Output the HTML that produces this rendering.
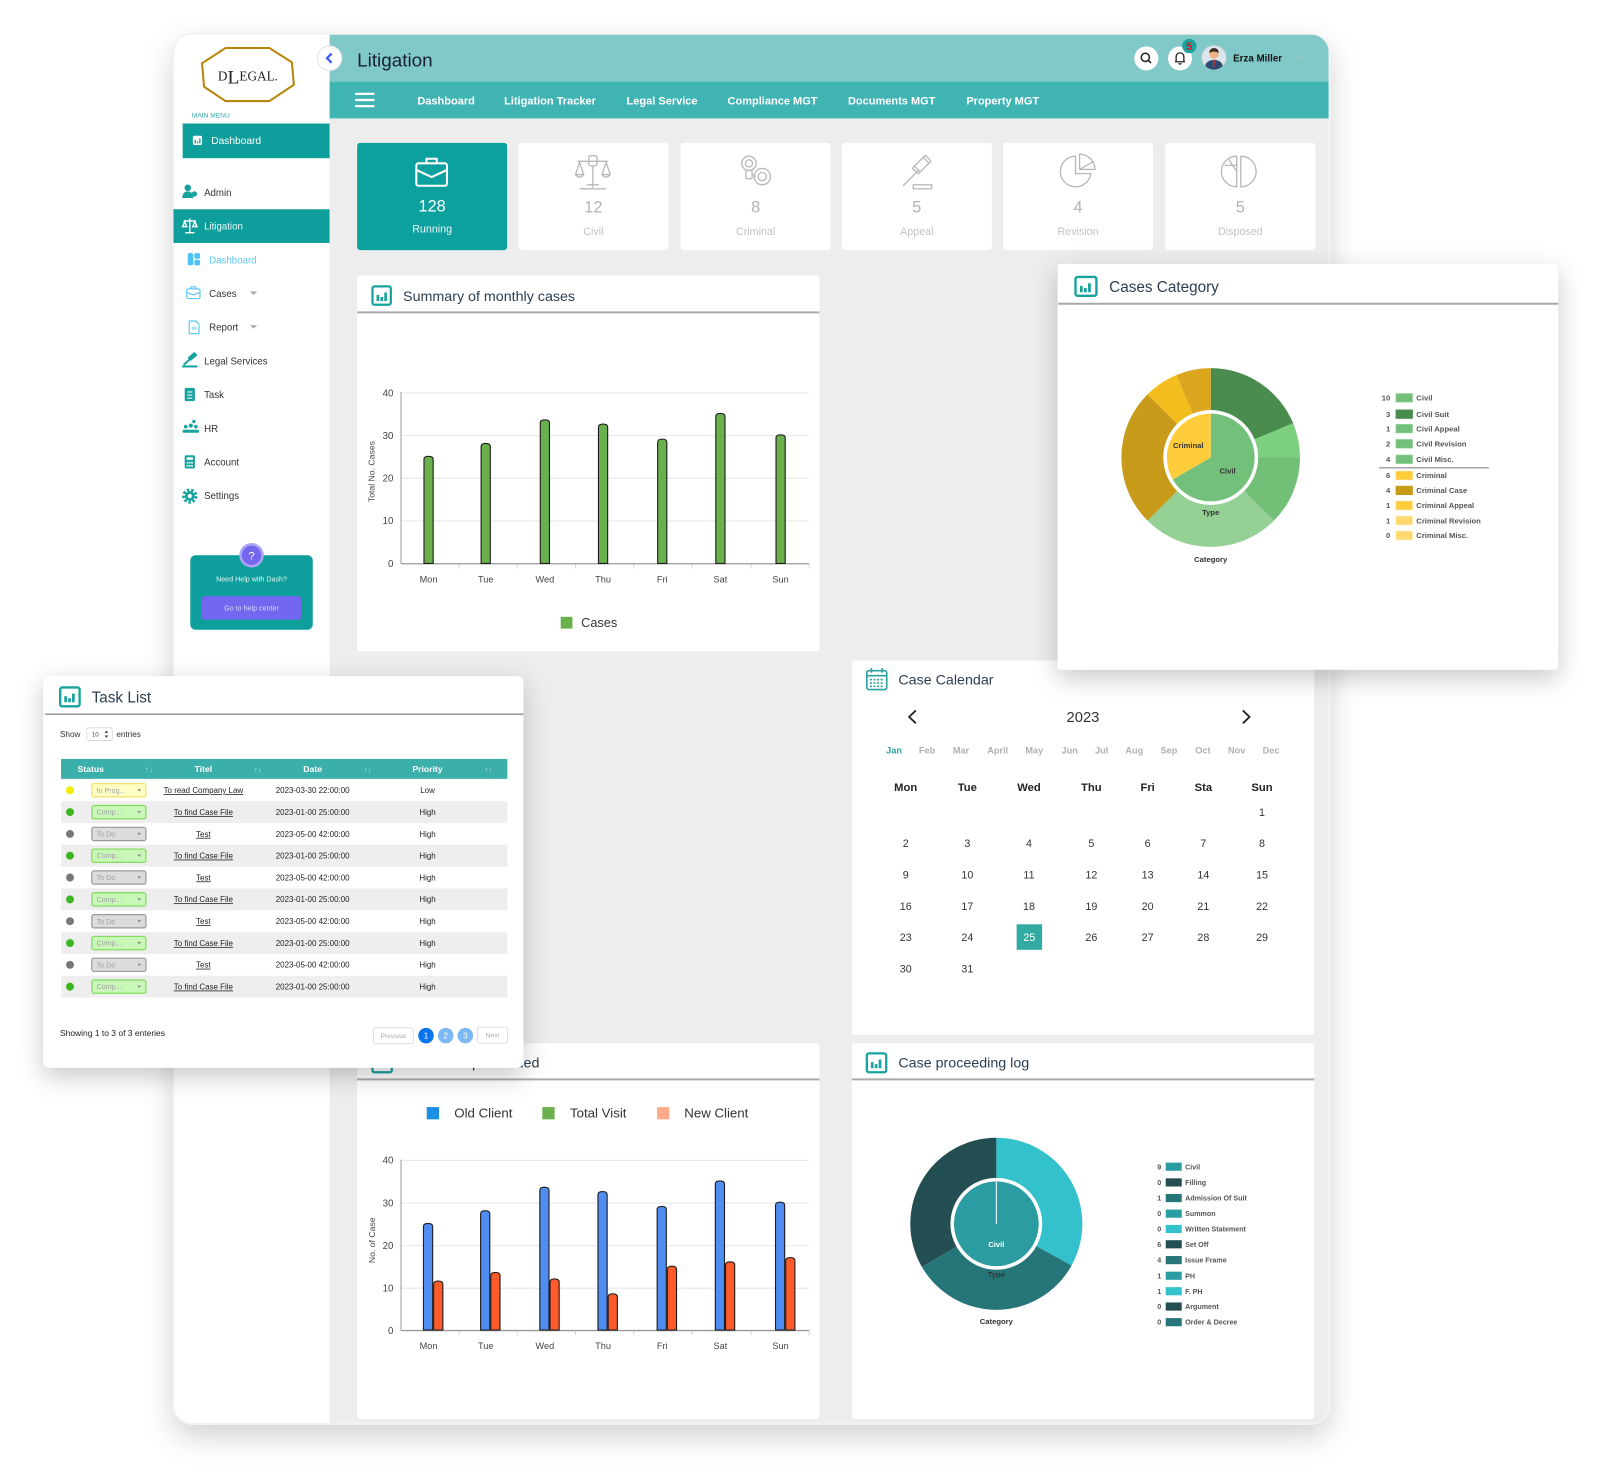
<!DOCTYPE html>
<html><head><meta charset="utf-8"><title>Litigation Dashboard</title>
<style>html,body{margin:0;padding:0;background:#fff;width:1600px;height:1476px;overflow:hidden}svg{display:block}</style></head>
<body>
<svg width="1600" height="1476" viewBox="0 0 1568 1446" preserveAspectRatio="none" font-family="'Liberation Sans', Arial, sans-serif">
<defs>
<filter id="sh" x="-10%" y="-10%" width="120%" height="125%"><feDropShadow dx="0" dy="12" stdDeviation="14" flood-color="#000" flood-opacity="0.18"/></filter>
<filter id="sh2" x="-20%" y="-20%" width="140%" height="145%"><feDropShadow dx="0" dy="8" stdDeviation="12" flood-color="#000" flood-opacity="0.22"/></filter>
<clipPath id="fc"><rect x="170" y="33" width="1133" height="1362" rx="18"/></clipPath>
</defs>
<rect width="1568" height="1446" fill="#fff"/>
<rect x="170" y="33" width="1133" height="1362" rx="18" fill="#ededed" filter="url(#sh)"/>
<g clip-path="url(#fc)">
 <rect x="170" y="33" width="153" height="1362" fill="#fff"/>
 <rect x="323" y="33" width="980" height="47" fill="#80c9c8"/>
 <rect x="323" y="80" width="980" height="36" fill="#3fb4b3"/>
</g>
<rect x="170" y="33" width="1133" height="1362" rx="18" fill="none" stroke="#f3f3f3" stroke-width="2"/>

<!-- Logo -->
<polygon points="221,47 264,47 286,61 288,83 264,99 221,99 200,85 198,62" fill="none" stroke="#b8860b" stroke-width="2"/>
<text x="243" y="79" text-anchor="middle" font-family="'Liberation Serif', serif" font-size="13" fill="#222">D<tspan font-size="19" dy="3">L</tspan><tspan dy="-3">EGAL.</tspan></text>
<text x="188" y="115" font-size="6.5" fill="#28a9a6">MAIN MENU</text>

<!-- Sidebar -->
<rect x="179" y="121" width="144" height="34" fill="#0e9f9c"/>
<rect x="189" y="133" width="9" height="9" rx="1.5" fill="#fff"/>
<g fill="#0e9f9c"><rect x="190.8" y="137" width="1.3" height="3.5"/><rect x="193" y="138.5" width="1.3" height="2"/><rect x="195.2" y="135.5" width="1.3" height="5"/></g>
<text x="207" y="141" font-size="10" fill="#fff">Dashboard</text>

<g fill="#17a29e"><circle cx="184" cy="184" r="3.2"/><path d="M178.5 194 Q179 187.5 184 187.5 Q189 187.5 189.5 194Z"/><circle cx="190.5" cy="190" r="2.6"/></g>
<text x="200" y="192" font-size="9.5" fill="#333">Admin</text>

<rect x="170" y="205" width="153" height="33" fill="#0e9f9c"/>
<g stroke="#fff" stroke-width="1.4" fill="none"><line x1="186" y1="214" x2="186" y2="228"/><line x1="180" y1="216.5" x2="192" y2="216.5"/><path d="M181 217 L179 222 H183 Z M191 217 L189 222 H193 Z"/><line x1="181.5" y1="228" x2="190.5" y2="228"/></g>
<text x="200" y="225" font-size="9.5" fill="#e9f7f7">Litigation</text>

<g fill="#4dc2f5"><rect x="184" y="248" width="5.5" height="12" rx="2"/><rect x="190.5" y="248" width="5.5" height="5.5" rx="1.5"/><rect x="190.5" y="254.5" width="5.5" height="5.5" rx="1.5"/></g>
<text x="205" y="258" font-size="9.5" fill="#5bc6f2">Dashboard</text>

<g stroke="#62c9f2" fill="none" stroke-width="1.2"><rect x="183" y="283" width="13" height="9.5" rx="1.5"/><path d="M187 283 V281 H192 V283 M183 286.5 L189.5 289 L196 286.5"/></g>
<text x="205" y="291" font-size="9.5" fill="#333">Cases</text>
<path d="M245 285.5 H252 L248.5 289 Z" fill="#aaa"/>

<g stroke="#62c9f2" fill="none" stroke-width="1.2"><path d="M185.5 314.5 H192 L195 317.5 V327 H185.5 Z"/></g>
<rect x="188" y="320" width="4.5" height="3" fill="#a9e0f7"/>
<text x="205" y="324" font-size="9.5" fill="#333">Report</text>
<path d="M245 318.5 H252 L248.5 322 Z" fill="#aaa"/>

<g fill="#17a29e"><rect x="184" y="347" width="9" height="4.5" rx="1" transform="rotate(-40 188.5 349)"/><rect x="178.5" y="358" width="15" height="2"/></g>
<path d="M186.5 351.5 L180 357.5" stroke="#17a29e" stroke-width="2"/>
<text x="200" y="357" font-size="9.5" fill="#333">Legal Services</text>

<rect x="181" y="380" width="10" height="13" rx="1.5" fill="#17a29e"/>
<g stroke="#fff" stroke-width="1"><line x1="183.5" y1="384" x2="188.5" y2="384"/><line x1="183.5" y1="387" x2="188.5" y2="387"/><line x1="183.5" y1="390" x2="188.5" y2="390"/></g>
<text x="200" y="390" font-size="9.5" fill="#333">Task</text>

<g fill="#17a29e"><circle cx="182" cy="418" r="1.8"/><circle cx="187" cy="417" r="2"/><circle cx="192" cy="418" r="1.8"/><circle cx="190" cy="413" r="1.6"/><rect x="179" y="421" width="16" height="3" rx="1"/></g>
<text x="200" y="423" font-size="9.5" fill="#333">HR</text>

<rect x="181" y="446" width="10" height="13" rx="1.5" fill="#17a29e"/>
<rect x="183" y="448" width="6" height="2.5" fill="#fff"/>
<g fill="#fff"><rect x="183" y="452.5" width="1.6" height="1.6"/><rect x="185.2" y="452.5" width="1.6" height="1.6"/><rect x="187.4" y="452.5" width="1.6" height="1.6"/><rect x="183" y="455.5" width="1.6" height="1.6"/><rect x="185.2" y="455.5" width="1.6" height="1.6"/><rect x="187.4" y="455.5" width="1.6" height="1.6"/></g>
<text x="200" y="456" font-size="9.5" fill="#333">Account</text>

<circle cx="186" cy="486" r="6" fill="none" stroke="#17a29e" stroke-width="3" stroke-dasharray="2.4 1.8"/>
<circle cx="186" cy="486" r="4.8" fill="#17a29e"/>
<circle cx="186" cy="486" r="2" fill="#fff"/>
<text x="200" y="489" font-size="9.5" fill="#333">Settings</text>

<!-- Help box -->
<rect x="186.5" y="544" width="120" height="73" rx="5" fill="#0e9f9c"/>
<circle cx="246.5" cy="544" r="12" fill="#aaa5f3"/>
<circle cx="246.5" cy="544" r="9.5" fill="#7568ee"/>
<text x="246.5" y="548" text-anchor="middle" font-size="11" fill="#fff">?</text>
<text x="246.5" y="569.5" text-anchor="middle" font-size="7" fill="#e3f5f5">Need Help with Dash?</text>
<rect x="197.5" y="584" width="98" height="23" rx="3" fill="#7367f0"/>
<text x="246.5" y="598" text-anchor="middle" font-size="7" fill="#dcd8fb">Go to help center</text>

<!-- Top bar -->
<circle cx="323" cy="57" r="12" fill="#fff" stroke="#e3e3e3"/>
<polyline points="325,52.5 320.5,57 325,61.5" fill="none" stroke="#3d5af1" stroke-width="2.2"/>
<text x="350" y="65" font-size="18.5" fill="#17212d">Litigation</text>

<circle cx="1123.4" cy="57.2" r="11.8" fill="#fff"/>
<circle cx="1122.4" cy="56.2" r="4" fill="none" stroke="#222" stroke-width="1.5"/>
<line x1="1125.3" y1="59.1" x2="1128" y2="61.8" stroke="#222" stroke-width="1.6"/>
<circle cx="1156.4" cy="57.2" r="11.8" fill="#fff"/>
<path d="M1152.6 60.5 V56.5 Q1152.6 51.8 1156.4 51.8 Q1160.2 51.8 1160.2 56.5 V60.5 H1161.3 H1151.5 Z" fill="none" stroke="#222" stroke-width="1.3"/>
<path d="M1155 62 Q1156.4 63.8 1157.8 62" fill="none" stroke="#222" stroke-width="1.2"/>
<circle cx="1165.5" cy="45.1" r="7" fill="#19a39e"/>
<text x="1165.5" y="49" text-anchor="middle" font-size="11" font-weight="bold" fill="#e8161b">5</text>
<circle cx="1189.7" cy="56.5" r="11.8" fill="#dde6ee" stroke="#cdd5dc"/>
<path d="M1181 64.5 Q1182.5 59 1189.7 58.5 Q1196.9 59 1198.4 64.5 A11.8 11.8 0 0 1 1181 64.5Z" fill="#2c4a72"/>
<path d="M1188.7 58.8 L1190.7 58.8 L1190.2 66 L1189.2 66 Z" fill="#c8313b"/>
<circle cx="1189.7" cy="53" r="4.5" fill="#eeb186"/>
<path d="M1185 52 Q1185.5 47 1189.7 47.2 Q1194 47 1194.4 52 Q1189.7 49 1185 52Z" fill="#3b2a20"/>
<text x="1208.5" y="60.3" font-size="9.6" font-weight="bold" fill="#111">Erza Miller</text>
<polyline points="1271,55.5 1274,58.5 1277,55.5" fill="none" stroke="#a3c6c6" stroke-width="1.2"/>

<!-- Nav -->
<g stroke="#fff" stroke-width="2.2"><line x1="348" y1="92" x2="367" y2="92"/><line x1="348" y1="98" x2="367" y2="98"/><line x1="348" y1="104" x2="367" y2="104"/></g>
<g font-size="10.8" font-weight="bold" fill="#fff">
<text x="409" y="102.5">Dashboard</text>
<text x="494" y="102.5">Litigation Tracker</text>
<text x="614" y="102.5">Legal Service</text>
<text x="713" y="102.5">Compliance MGT</text>
<text x="831" y="102.5">Documents MGT</text>
<text x="947" y="102.5">Property MGT</text>
</g>

<!-- Stat cards -->
<rect x="350" y="140" width="147" height="105" rx="3" fill="#0ca19f"/>
<g stroke="#fff" stroke-width="2" fill="none"><rect x="408" y="160" width="30" height="22" rx="2"/><path d="M418 160 V155.5 H428 V160"/><polyline points="408,166.5 423,173.5 438,166.5"/></g>
<text x="423.5" y="207" text-anchor="middle" font-size="16" fill="#fff">128</text>
<text x="423.5" y="228" text-anchor="middle" font-size="10.5" fill="#eafafa">Running</text>

<rect x="508" y="140" width="147" height="105" rx="3" fill="#fff"/>
<rect x="667" y="140" width="147" height="105" rx="3" fill="#fff"/>
<rect x="825" y="140" width="147" height="105" rx="3" fill="#fff"/>
<rect x="983" y="140" width="147" height="105" rx="3" fill="#fff"/>
<rect x="1142" y="140" width="147" height="105" rx="3" fill="#fff"/>
<g stroke="#b8b8b8" fill="none" stroke-width="1.3">
 <line x1="566" y1="158" x2="596" y2="158"/><rect x="577" y="152.5" width="8" height="10" rx="2"/><line x1="581" y1="163" x2="581" y2="184"/>
 <path d="M568 159 L564 171 H572 Z M594 159 L590 171 H598 Z"/><path d="M564 171 Q568 176 572 171 M590 171 Q594 176 598 171"/>
 <line x1="568" y1="185" x2="594" y2="185"/><line x1="575" y1="181" x2="587" y2="181"/>
 <circle cx="734" cy="160" r="7"/><circle cx="734" cy="160" r="3.5"/><circle cx="747" cy="173" r="8"/><circle cx="747" cy="173" r="4"/><rect x="731" y="167" width="6" height="8" rx="1"/><path d="M737 171 L741 173"/>
 <g transform="rotate(-45 904 162)"><rect x="895" y="157" width="18" height="8" rx="1"/><line x1="898" y1="157" x2="898" y2="165"/><line x1="910" y1="157" x2="910" y2="165"/></g>
 <line x1="900" y1="167" x2="885" y2="182"/><rect x="895" y="181" width="18" height="4"/>
 <path d="M1054 170 L1054 153 A15 15 0 1 0 1069 170 Z"/><path d="M1058 166 L1058 151 A15 15 0 0 1 1073 166 Z"/><line x1="1058" y1="166" x2="1072" y2="158"/>
 <path d="M1212 168 L1212 153 A15 15 0 0 0 1212 183 Z"/><path d="M1216 153 A15 15 0 0 1 1216 183 Z"/><line x1="1200" y1="162" x2="1212" y2="162"/><line x1="1204" y1="156" x2="1212" y2="168"/>
</g>
<g text-anchor="middle" fill="#b4b4b4"><text x="581.5" y="208" font-size="16">12</text><text x="740.5" y="208" font-size="16">8</text><text x="898.5" y="208" font-size="16">5</text><text x="1056.5" y="208" font-size="16">4</text><text x="1215.5" y="208" font-size="16">5</text></g>
<g text-anchor="middle" fill="#c2c2c2" font-size="10.5"><text x="581.5" y="230">Civil</text><text x="740.5" y="230">Criminal</text><text x="898.5" y="230">Appeal</text><text x="1056.5" y="230">Revision</text><text x="1215.5" y="230">Disposed</text></g>

<!-- Summary card -->
<rect x="350" y="270" width="453" height="368" rx="2" fill="#fff"/>
<rect x="365" y="280.5" width="18" height="18" rx="2" fill="none" stroke="#17a29e" stroke-width="2.2"/>
<g fill="#17a29e"><rect x="369" y="289" width="2.6" height="6"/><rect x="372.8" y="291" width="2.6" height="4"/><rect x="376.6" y="286.5" width="2.6" height="8.5"/></g>
<text x="395" y="294.7" font-size="14" fill="#2c3e50">Summary of monthly cases</text>
<line x1="350" y1="306" x2="803" y2="306" stroke="#aaa" stroke-width="2"/>
<g stroke="#e6e6e6" stroke-width="1"><line x1="393" y1="385" x2="793" y2="385"/><line x1="393" y1="426.8" x2="793" y2="426.8"/><line x1="393" y1="468.6" x2="793" y2="468.6"/><line x1="393" y1="510.4" x2="793" y2="510.4"/></g>
<line x1="393" y1="384" x2="393" y2="552.5" stroke="#999" stroke-width="1"/>
<line x1="393" y1="552.3" x2="793" y2="552.3" stroke="#999" stroke-width="1.3"/>
<g stroke="#d4d4d4"><line x1="450" y1="553" x2="450" y2="557"/><line x1="507" y1="553" x2="507" y2="557"/><line x1="564" y1="553" x2="564" y2="557"/><line x1="621" y1="553" x2="621" y2="557"/><line x1="678" y1="553" x2="678" y2="557"/><line x1="736" y1="553" x2="736" y2="557"/><line x1="793" y1="553" x2="793" y2="557"/></g>
<g font-size="9.5" fill="#444" text-anchor="end"><text x="385.5" y="388.3">40</text><text x="385.5" y="430">30</text><text x="385.5" y="471.8">20</text><text x="385.5" y="513.6">10</text><text x="385.5" y="555.5">0</text></g>
<text transform="translate(367 462) rotate(-90)" text-anchor="middle" font-size="8.5" fill="#444">Total No. Cases</text>
<g fill="#6ab04c" stroke="#1e1e1e" stroke-width="1.1">
<path d="M415.5 552V450Q415.5 447 420 447Q424.5 447 424.5 450V552Z"/>
<path d="M471.5 552V437.4Q471.5 434.4 476 434.4Q480.5 434.4 480.5 437.4V552Z"/>
<path d="M529.5 552V414.3Q529.5 411.3 534 411.3Q538.5 411.3 538.5 414.3V552Z"/>
<path d="M586.5 552V418.5Q586.5 415.5 591 415.5Q595.5 415.5 595.5 418.5V552Z"/>
<path d="M644.5 552V433.2Q644.5 430.2 649 430.2Q653.5 430.2 653.5 433.2V552Z"/>
<path d="M701.5 552V408Q701.5 405 706 405Q710.5 405 710.5 408V552Z"/>
<path d="M760.5 552V429Q760.5 426 765 426Q769.5 426 769.5 429V552Z"/>
</g>
<g font-size="9" fill="#444" text-anchor="middle"><text x="420" y="570.5">Mon</text><text x="476" y="570.5">Tue</text><text x="534" y="570.5">Wed</text><text x="591" y="570.5">Thu</text><text x="649" y="570.5">Fri</text><text x="706" y="570.5">Sat</text><text x="765" y="570.5">Sun</text></g>
<rect x="549.5" y="604.3" width="11.5" height="11.5" fill="#6ab04c"/>
<text x="569.5" y="614.5" font-size="12.5" fill="#333">Cases</text>

<!-- Calendar card -->
<rect x="835" y="647" width="453" height="367" rx="3" fill="#fff"/>
<g stroke="#2aa39e" fill="none" stroke-width="1.6"><rect x="849.5" y="657" width="19.5" height="18.5" rx="2"/><line x1="849.5" y1="662" x2="869" y2="662"/><line x1="854" y1="654.5" x2="854" y2="659"/><line x1="864.5" y1="654.5" x2="864.5" y2="659"/></g>
<g fill="#2aa39e"><rect x="852.5" y="665" width="2" height="1.6"/><rect x="856" y="665" width="2" height="1.6"/><rect x="859.5" y="665" width="2" height="1.6"/><rect x="863" y="665" width="2" height="1.6"/><rect x="852.5" y="668.3" width="2" height="1.6"/><rect x="856" y="668.3" width="2" height="1.6"/><rect x="859.5" y="668.3" width="2" height="1.6"/><rect x="863" y="668.3" width="2" height="1.6"/><rect x="852.5" y="671.6" width="2" height="1.6"/><rect x="856" y="671.6" width="2" height="1.6"/><rect x="859.5" y="671.6" width="2" height="1.6"/><rect x="863" y="671.6" width="2" height="1.6"/></g>
<text x="880.4" y="670.4" font-size="14" fill="#2c3e50">Case Calendar</text>
<polyline points="897.5,696 891,702.3 897.5,708.6" fill="none" stroke="#222" stroke-width="1.8"/>
<polyline points="1218,696 1224.5,702.3 1218,708.6" fill="none" stroke="#222" stroke-width="1.8"/>
<text x="1061.3" y="707.5" text-anchor="middle" font-size="14.5" fill="#333">2023</text>
<g font-size="9" text-anchor="middle" fill="#b0b0b0" font-weight="bold">
<text x="876.2" y="738" fill="#2aa39e">Jan</text><text x="908.5" y="738">Feb</text><text x="941.8" y="738">Mar</text><text x="977.7" y="738">April</text><text x="1013.6" y="738">May</text><text x="1048.3" y="738">Jun</text><text x="1079.6" y="738">Jul</text><text x="1111.6" y="738">Aug</text><text x="1145.6" y="738">Sep</text><text x="1178.9" y="738">Oct</text><text x="1212" y="738">Nov</text><text x="1245.6" y="738">Dec</text>
</g>
<g font-size="11" text-anchor="middle" fill="#222" font-weight="bold">
<text x="887.6" y="775">Mon</text><text x="948" y="775">Tue</text><text x="1008.4" y="775">Wed</text><text x="1069.5" y="775">Thu</text><text x="1124.7" y="775">Fri</text><text x="1179.3" y="775">Sta</text><text x="1236.8" y="775">Sun</text>
</g>
<rect x="996.3" y="905.5" width="25" height="25" fill="#31aaa1"/>
<g font-size="10.5" text-anchor="middle" fill="#333">
<text x="1236.8" y="799.6">1</text>
<text x="887.6" y="830">2</text><text x="948" y="830">3</text><text x="1008.4" y="830">4</text><text x="1069.5" y="830">5</text><text x="1124.7" y="830">6</text><text x="1179.3" y="830">7</text><text x="1236.8" y="830">8</text>
<text x="887.6" y="860.7">9</text><text x="948" y="860.7">10</text><text x="1008.4" y="860.7">11</text><text x="1069.5" y="860.7">12</text><text x="1124.7" y="860.7">13</text><text x="1179.3" y="860.7">14</text><text x="1236.8" y="860.7">15</text>
<text x="887.6" y="891.4">16</text><text x="948" y="891.4">17</text><text x="1008.4" y="891.4">18</text><text x="1069.5" y="891.4">19</text><text x="1124.7" y="891.4">20</text><text x="1179.3" y="891.4">21</text><text x="1236.8" y="891.4">22</text>
<text x="887.6" y="922.1">23</text><text x="948" y="922.1">24</text><text x="1008.8" y="922.1" fill="#fff">25</text><text x="1069.5" y="922.1">26</text><text x="1124.7" y="922.1">27</text><text x="1179.3" y="922.1">28</text><text x="1236.8" y="922.1">29</text>
<text x="887.6" y="952.8">30</text><text x="948" y="952.8">31</text>
</g>

<!-- Case proceeding log -->
<rect x="835" y="1022" width="453" height="368" rx="3" fill="#fff"/>
<rect x="849.5" y="1032" width="19" height="18.5" rx="2" fill="none" stroke="#17a29e" stroke-width="2.2"/>
<g fill="#17a29e"><rect x="853.5" y="1040.5" width="2.6" height="6"/><rect x="857.3" y="1042.5" width="2.6" height="4"/><rect x="861.1" y="1038" width="2.6" height="8.5"/></g>
<text x="880.4" y="1046" font-size="14" fill="#2c3e50">Case proceeding log</text>
<line x1="835" y1="1057.4" x2="1288" y2="1057.4" stroke="#aaa" stroke-width="2"/>
<path d="M976.4 1198.9 L976.4 1114.6 A84.3 84.3 0 0 1 1050.1 1239.8 Z" fill="#33c1cb"/>
<path d="M976.4 1198.9 L1050.1 1239.8 A84.3 84.3 0 0 1 903.4 1241.1 Z" fill="#267679"/>
<path d="M976.4 1198.9 L903.4 1241.1 A84.3 84.3 0 0 1 976.4 1114.6 Z" fill="#234e52"/>
<circle cx="976.4" cy="1198.9" r="45" fill="#fff"/>
<circle cx="976.4" cy="1198.9" r="41.5" fill="#2b9ca2"/>
<line x1="976.4" y1="1198.9" x2="976.4" y2="1157.4" stroke="#fff" stroke-width="1"/>
<g font-size="7.5" font-weight="bold" text-anchor="middle"><text x="976.4" y="1221.5" fill="#fff">Civil</text><text x="976.4" y="1251.2" fill="#333">Type</text><text x="976.4" y="1297.3" fill="#333">Category</text></g>
<g font-size="7" font-weight="bold" fill="#555">
<g text-anchor="end"><text x="1138" y="1145.5">9</text><text x="1138" y="1161">0</text><text x="1138" y="1176.2">1</text><text x="1138" y="1191.5">0</text><text x="1138" y="1206.5">0</text><text x="1138" y="1221.5">6</text><text x="1138" y="1237">4</text><text x="1138" y="1252.3">1</text><text x="1138" y="1267.5">1</text><text x="1138" y="1282.5">0</text><text x="1138" y="1297.8">0</text></g>
<rect x="1142.4" y="1139" width="15.7" height="8" fill="#2b9ca2"/><rect x="1142.4" y="1154.4" width="15.7" height="8" fill="#234e52"/><rect x="1142.4" y="1169.7" width="15.7" height="8" fill="#267679"/><rect x="1142.4" y="1185" width="15.7" height="8" fill="#2b9ca2"/><rect x="1142.4" y="1200" width="15.7" height="8" fill="#33c1cb"/><rect x="1142.4" y="1215" width="15.7" height="8" fill="#234e52"/><rect x="1142.4" y="1230.5" width="15.7" height="8" fill="#267679"/><rect x="1142.4" y="1245.8" width="15.7" height="8" fill="#2b9ca2"/><rect x="1142.4" y="1261" width="15.7" height="8" fill="#33c1cb"/><rect x="1142.4" y="1276" width="15.7" height="8" fill="#234e52"/><rect x="1142.4" y="1291.3" width="15.7" height="8" fill="#267679"/>
<text x="1161.4" y="1145.5">Civil</text><text x="1161.4" y="1161">Filling</text><text x="1161.4" y="1176.2">Admission Of Suit</text><text x="1161.4" y="1191.5">Summon</text><text x="1161.4" y="1206.5">Written Statement</text><text x="1161.4" y="1221.5">Set Off</text><text x="1161.4" y="1237">Issue Frame</text><text x="1161.4" y="1252.3">PH</text><text x="1161.4" y="1267.5">F. PH</text><text x="1161.4" y="1282.5">Argument</text><text x="1161.4" y="1297.8">Order &amp; Decree</text>
</g>

<!-- Client chart card -->
<rect x="350" y="1022" width="453" height="368" rx="3" fill="#fff"/>
<rect x="365" y="1032" width="19" height="18.5" rx="2" fill="none" stroke="#17a29e" stroke-width="2.2"/>
<text x="395" y="1046" font-size="14" fill="#2c3e50">Client visit proceeded</text>
<line x1="350" y1="1057.4" x2="803" y2="1057.4" stroke="#aaa" stroke-width="2"/>
<rect x="418.2" y="1084.6" width="12" height="12" fill="#1a8fe3"/>
<text x="445.2" y="1095" font-size="13" fill="#333">Old Client</text>
<rect x="531.5" y="1084.6" width="12" height="12" fill="#6ab04c"/>
<text x="558.6" y="1095" font-size="13" fill="#333">Total Visit</text>
<rect x="643.9" y="1084.6" width="12" height="12" fill="#ffab8a"/>
<text x="670.6" y="1095" font-size="13" fill="#333">New Client</text>
<g stroke="#e6e6e6" stroke-width="1"><line x1="393" y1="1136.8" x2="793" y2="1136.8"/><line x1="393" y1="1178.5" x2="793" y2="1178.5"/><line x1="393" y1="1220.3" x2="793" y2="1220.3"/><line x1="393" y1="1262" x2="793" y2="1262"/></g>
<line x1="393" y1="1136" x2="393" y2="1304" stroke="#999" stroke-width="1"/>
<line x1="393" y1="1303.5" x2="793" y2="1303.5" stroke="#999" stroke-width="1.3"/>
<g stroke="#d4d4d4"><line x1="450" y1="1304" x2="450" y2="1308"/><line x1="507" y1="1304" x2="507" y2="1308"/><line x1="564" y1="1304" x2="564" y2="1308"/><line x1="621" y1="1304" x2="621" y2="1308"/><line x1="678" y1="1304" x2="678" y2="1308"/><line x1="736" y1="1304" x2="736" y2="1308"/><line x1="793" y1="1304" x2="793" y2="1308"/></g>
<g font-size="9.5" fill="#444" text-anchor="end"><text x="385.5" y="1140">40</text><text x="385.5" y="1181.8">30</text><text x="385.5" y="1223.6">20</text><text x="385.5" y="1265.3">10</text><text x="385.5" y="1307">0</text></g>
<text transform="translate(367.5 1215) rotate(-90)" text-anchor="middle" font-size="8.5" fill="#444">No. of Case</text>
<g fill="#4f8ef0" stroke="#1e1e1e" stroke-width="1.1">
<path d="M415 1303V1201.6Q415 1198.6 419.5 1198.6Q424 1198.6 424 1201.6V1303Z"/>
<path d="M471 1303V1189.1Q471 1186.1 475.5 1186.1Q480 1186.1 480 1189.1V1303Z"/>
<path d="M529 1303V1166.1Q529 1163.1 533.5 1163.1Q538 1163.1 538 1166.1V1303Z"/>
<path d="M586 1303V1170.3Q586 1167.3 590.5 1167.3Q595 1167.3 595 1170.3V1303Z"/>
<path d="M644 1303V1184.9Q644 1181.9 648.5 1181.9Q653 1181.9 653 1184.9V1303Z"/>
<path d="M701 1303V1159.9Q701 1156.9 705.5 1156.9Q710 1156.9 710 1159.9V1303Z"/>
<path d="M760 1303V1180.8Q760 1177.8 764.5 1177.8Q769 1177.8 769 1180.8V1303Z"/>
</g>
<g fill="#ff5a2a" stroke="#1e1e1e" stroke-width="1.1">
<path d="M425 1303V1258Q425 1255 429.5 1255Q434 1255 434 1258V1303Z"/>
<path d="M481 1303V1249.6Q481 1246.6 485.5 1246.6Q490 1246.6 490 1249.6V1303Z"/>
<path d="M539 1303V1255.9Q539 1252.9 543.5 1252.9Q548 1252.9 548 1255.9V1303Z"/>
<path d="M596 1303V1270.5Q596 1267.5 600.5 1267.5Q605 1267.5 605 1270.5V1303Z"/>
<path d="M654 1303V1243.4Q654 1240.4 658.5 1240.4Q663 1240.4 663 1243.4V1303Z"/>
<path d="M711 1303V1239.2Q711 1236.2 715.5 1236.2Q720 1236.2 720 1239.2V1303Z"/>
<path d="M770 1303V1235Q770 1232 774.5 1232Q779 1232 779 1235V1303Z"/>
</g>
<g font-size="9" fill="#444" text-anchor="middle"><text x="420" y="1321.5">Mon</text><text x="476" y="1321.5">Tue</text><text x="534" y="1321.5">Wed</text><text x="591" y="1321.5">Thu</text><text x="649" y="1321.5">Fri</text><text x="706" y="1321.5">Sat</text><text x="765" y="1321.5">Sun</text></g>

<!-- Cases Category card -->
<rect x="1036.5" y="258.5" width="490.5" height="397.5" rx="3" fill="#fff" filter="url(#sh2)"/>
<rect x="1054" y="271.3" width="20.5" height="18.5" rx="2" fill="none" stroke="#17a29e" stroke-width="2.3"/>
<g fill="#17a29e"><rect x="1058.3" y="280" width="2.7" height="6.3"/><rect x="1062.3" y="282.3" width="2.7" height="4"/><rect x="1066.3" y="277.5" width="2.7" height="8.8"/></g>
<text x="1087" y="286" font-size="15" fill="#2c3e50">Cases Category</text>
<line x1="1037" y1="297.6" x2="1527" y2="297.6" stroke="#a8a8a8" stroke-width="2"/>
<path d="M1186.5 448.2 L1186.5 360.7 A87.5 87.5 0 0 1 1267.3 414.7 Z" fill="#4a8c4e"/>
<path d="M1186.5 448.2 L1267.3 414.7 A87.5 87.5 0 0 1 1274 448.2 Z" fill="#7dcf80"/>
<path d="M1186.5 448.2 L1274 448.2 A87.5 87.5 0 0 1 1248.4 510.1 Z" fill="#72bf78"/>
<path d="M1186.5 448.2 L1248.4 510.1 A87.5 87.5 0 0 1 1124.6 510.1 Z" fill="#95d095"/>
<path d="M1186.5 448.2 L1124.6 510.1 A87.5 87.5 0 0 1 1124.6 386.3 Z" fill="#c79a1a"/>
<path d="M1186.5 448.2 L1124.6 386.3 A87.5 87.5 0 0 1 1153 367.4 Z" fill="#f3bd1d"/>
<path d="M1186.5 448.2 L1153 367.4 A87.5 87.5 0 0 1 1186.5 360.7 Z" fill="#dca71f"/>
<circle cx="1186.5" cy="448.2" r="46.5" fill="#fff"/>
<path d="M1186.5 448.2 L1186.5 405.2 A43 43 0 1 1 1149.3 469.7 Z" fill="#72c07a"/>
<path d="M1186.5 448.2 L1149.3 469.7 A43 43 0 0 1 1186.5 405.2 Z" fill="#ffcd3c"/>
<g font-size="7.5" font-weight="bold" text-anchor="middle" fill="#333"><text x="1164.5" y="438.8">Criminal</text><text x="1203" y="463.8">Civil</text><text x="1186.5" y="504.6">Type</text><text x="1186.5" y="550.8">Category</text></g>
<g font-size="7.5" font-weight="bold" fill="#555">
<g text-anchor="end"><text x="1362.5" y="392.4">10</text><text x="1362.5" y="408.5">3</text><text x="1362.5" y="422.7">1</text><text x="1362.5" y="437.5">2</text><text x="1362.5" y="452.7">4</text><text x="1362.5" y="468.5">6</text><text x="1362.5" y="483.2">4</text><text x="1362.5" y="497.9">1</text><text x="1362.5" y="512.7">1</text><text x="1362.5" y="527.3">0</text></g>
<g stroke-width="0.6">
<rect x="1368" y="385.5" width="16.3" height="8.5" fill="#72c07a" stroke="#9fd6a4"/>
<rect x="1368" y="401.5" width="16.3" height="8.5" fill="#4a8c4e" stroke="#4a8c4e"/>
<rect x="1368" y="415.7" width="16.3" height="8.5" fill="#72c07a" stroke="#9fd6a4"/>
<rect x="1368" y="430.5" width="16.3" height="8.5" fill="#72c07a" stroke="#9fd6a4"/>
<rect x="1368" y="445.7" width="16.3" height="8.5" fill="#72c07a" stroke="#9fd6a4"/>
<rect x="1368" y="461.5" width="16.3" height="8.5" fill="#ffcd3c" stroke="#ffe08a"/>
<rect x="1368" y="476.2" width="16.3" height="8.5" fill="#c89a1a" stroke="#c89a1a"/>
<rect x="1368" y="490.9" width="16.3" height="8.5" fill="#ffcd3c" stroke="#ffe08a"/>
<rect x="1368" y="505.7" width="16.3" height="8.5" fill="#ffd970" stroke="#ffe7a8"/>
<rect x="1368" y="520.3" width="16.3" height="8.5" fill="#ffd970" stroke="#ffe7a8"/>
</g>
<text x="1388" y="392.4">Civil</text><text x="1388" y="408.5">Civil Suit</text><text x="1388" y="422.7">Civil Appeal</text><text x="1388" y="437.5">Civil Revision</text><text x="1388" y="452.7">Civil Misc.</text><text x="1388" y="468.5">Criminal</text><text x="1388" y="483.2">Criminal Case</text><text x="1388" y="497.9">Criminal Appeal</text><text x="1388" y="512.7">Criminal Revision</text><text x="1388" y="527.3">Criminal Misc.</text>
</g>
<line x1="1351.5" y1="458.3" x2="1459" y2="458.3" stroke="#aaa" stroke-width="1.5"/>

<!-- Task List card -->
<rect x="42.5" y="662.5" width="470.5" height="383.5" rx="6" fill="#fff" filter="url(#sh2)"/>
<rect x="59" y="673.5" width="19" height="18.5" rx="2" fill="none" stroke="#17a29e" stroke-width="2.3"/>
<g fill="#17a29e"><rect x="63" y="682" width="2.6" height="6"/><rect x="66.8" y="684" width="2.6" height="4"/><rect x="70.6" y="679.5" width="2.6" height="8.5"/></g>
<text x="89.8" y="688" font-size="15" fill="#2c3e50">Task List</text>
<line x1="44" y1="699.7" x2="513" y2="699.7" stroke="#999" stroke-width="1.5"/>
<text x="58.8" y="721.8" font-size="8" fill="#333">Show</text>
<rect x="85" y="713" width="25" height="12.5" rx="2" fill="#fff" stroke="#d4d4d4" stroke-width="0.8"/>
<text x="90" y="721.5" font-size="6" fill="#444">10</text>
<path d="M102.5 718 L104.3 715.8 L106.1 718 Z M102.5 720.5 L104.3 722.7 L106.1 720.5 Z" fill="#333"/>
<text x="114" y="721.8" font-size="8" fill="#333">entries</text>
<rect x="59.8" y="743.5" width="437.4" height="19.5" fill="#3bb0ab"/>
<g font-size="8.5" font-weight="bold" fill="#fff" text-anchor="middle"><text x="88.9" y="756.3">Status</text><text x="199.3" y="756.3">Titel</text><text x="306.4" y="756.3">Date</text><text x="419" y="756.3">Priority</text></g>
<g font-size="8" fill="#a6dfdb" text-anchor="middle"><text x="146" y="756.3">↑↓</text><text x="252.5" y="756.3">↑↓</text><text x="360.3" y="756.3">↑↓</text><text x="478.6" y="756.3">↑↓</text></g>
<g fill="#eeeeee"><rect x="59.8" y="784.9" width="437.4" height="21.4"/><rect x="59.8" y="827.6" width="437.4" height="21.4"/><rect x="59.8" y="870.4" width="437.4" height="21.4"/><rect x="59.8" y="913.2" width="437.4" height="21.4"/><rect x="59.8" y="955.9" width="437.4" height="21.4"/></g>
<!-- dots -->
<circle cx="68.6" cy="774.2" r="3.9" fill="#f2ea00"/>
<g fill="#3cb521"><circle cx="68.6" cy="795.6" r="3.9"/><circle cx="68.6" cy="838.3" r="3.9"/><circle cx="68.6" cy="881.1" r="3.9"/><circle cx="68.6" cy="923.9" r="3.9"/><circle cx="68.6" cy="966.6" r="3.9"/></g>
<g fill="#777"><circle cx="68.6" cy="817" r="3.9"/><circle cx="68.6" cy="859.7" r="3.9"/><circle cx="68.6" cy="902.5" r="3.9"/><circle cx="68.6" cy="945.2" r="3.9"/></g>
<!-- selects -->
<rect x="90" y="767.7" width="53" height="13" rx="2" fill="#ffffc4" stroke="#ece36a" stroke-width="1.2"/>
<g fill="#c9f7b8" stroke="#82dc5e" stroke-width="1.2"><rect x="90" y="789.1" width="53" height="13" rx="2"/><rect x="90" y="831.8" width="53" height="13" rx="2"/><rect x="90" y="874.6" width="53" height="13" rx="2"/><rect x="90" y="917.4" width="53" height="13" rx="2"/><rect x="90" y="960.1" width="53" height="13" rx="2"/></g>
<g fill="#dcdcdc" stroke="#9a9a9a" stroke-width="1.2"><rect x="90" y="810.5" width="53" height="13" rx="2"/><rect x="90" y="853.2" width="53" height="13" rx="2"/><rect x="90" y="896" width="53" height="13" rx="2"/><rect x="90" y="938.7" width="53" height="13" rx="2"/></g>
<g font-size="7" fill="#a0a0a0">
<text x="94.7" y="776.7">In Prog...</text>
<text x="94.7" y="798.1">Comp...</text><text x="94.7" y="819.5">To Do</text><text x="94.7" y="840.8">Comp...</text><text x="94.7" y="862.2">To Do</text><text x="94.7" y="883.6">Comp...</text><text x="94.7" y="905">To Do</text><text x="94.7" y="926.4">Comp...</text><text x="94.7" y="947.7">To Do</text><text x="94.7" y="969.1">Comp...</text>
</g>
<g fill="#888">
<path d="M134.5 773.2 H138.5 L136.5 775.4Z"/><path d="M134.5 794.6 H138.5 L136.5 796.8Z"/><path d="M134.5 816 H138.5 L136.5 818.2Z"/><path d="M134.5 837.3 H138.5 L136.5 839.5Z"/><path d="M134.5 858.7 H138.5 L136.5 860.9Z"/><path d="M134.5 880.1 H138.5 L136.5 882.3Z"/><path d="M134.5 901.5 H138.5 L136.5 903.7Z"/><path d="M134.5 922.9 H138.5 L136.5 925.1Z"/><path d="M134.5 944.2 H138.5 L136.5 946.4Z"/><path d="M134.5 965.6 H138.5 L136.5 967.8Z"/>
</g>
<g font-size="7.8" fill="#222" text-anchor="middle" text-decoration="underline">
<text x="199.3" y="777">To read Company Law</text>
<text x="199.3" y="798.4">To find Case File</text><text x="199.3" y="819.8">Test</text><text x="199.3" y="841.1">To find Case File</text><text x="199.3" y="862.5">Test</text><text x="199.3" y="883.9">To find Case File</text><text x="199.3" y="905.3">Test</text><text x="199.3" y="926.7">To find Case File</text><text x="199.3" y="948">Test</text><text x="199.3" y="969.4">To find Case File</text>
</g>
<g font-size="7.8" fill="#222" text-anchor="middle">
<text x="306.4" y="777">2023-03-30 22:00:00</text>
<text x="306.4" y="798.4">2023-01-00 25:00:00</text><text x="306.4" y="819.8">2023-05-00 42:00:00</text><text x="306.4" y="841.1">2023-01-00 25:00:00</text><text x="306.4" y="862.5">2023-05-00 42:00:00</text><text x="306.4" y="883.9">2023-01-00 25:00:00</text><text x="306.4" y="905.3">2023-05-00 42:00:00</text><text x="306.4" y="926.7">2023-01-00 25:00:00</text><text x="306.4" y="948">2023-05-00 42:00:00</text><text x="306.4" y="969.4">2023-01-00 25:00:00</text>
<text x="419" y="777">Low</text>
<text x="419" y="798.4">High</text><text x="419" y="819.8">High</text><text x="419" y="841.1">High</text><text x="419" y="862.5">High</text><text x="419" y="883.9">High</text><text x="419" y="905.3">High</text><text x="419" y="926.7">High</text><text x="419" y="948">High</text><text x="419" y="969.4">High</text>
</g>
<text x="58.8" y="1015" font-size="8.3" fill="#222">Showing 1 to 3 of 3 enteries</text>
<rect x="366" y="1006.8" width="39" height="15.7" rx="2" fill="#fff" stroke="#dadada" stroke-width="0.8"/>
<text x="385.5" y="1017" text-anchor="middle" font-size="6.5" fill="#aaa">Previous</text>
<circle cx="417.5" cy="1014.6" r="7.6" fill="#0a74ee"/>
<circle cx="436.8" cy="1014.6" r="7.6" fill="#7cb9f4"/>
<circle cx="456" cy="1014.6" r="7.6" fill="#7cb9f4"/>
<g font-size="8" fill="#fff" text-anchor="middle"><text x="417.5" y="1017.5">1</text><text x="436.8" y="1017.5">2</text><text x="456" y="1017.5">3</text></g>
<rect x="468" y="1006.3" width="29.5" height="15.7" rx="2" fill="#fff" stroke="#dadada" stroke-width="0.8"/>
<text x="482.7" y="1016.5" text-anchor="middle" font-size="6.5" fill="#aaa">Next</text>
</svg>
</body></html>
